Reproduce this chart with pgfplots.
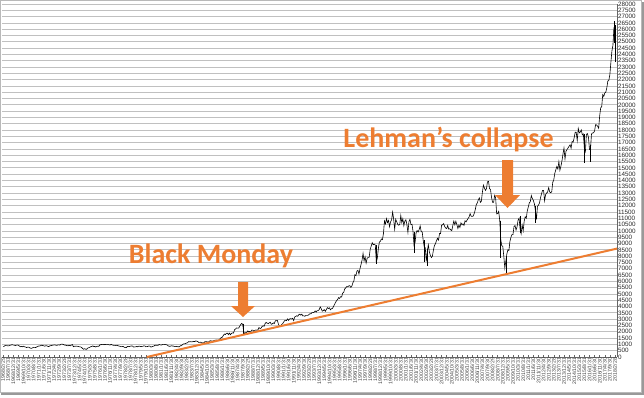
\documentclass[border=0pt]{standalone}
\usepackage{pgfplots}
\pgfplotsset{compat=1.18}
\usepackage{pgfplotstable}
\usepackage{fontspec}
\setmainfont{Liberation Sans}
\newfontfamily\calibri{Carlito}
\definecolor{xlorange}{RGB}{237,125,49}
\definecolor{gridgray}{RGB}{192,192,192}

\pgfplotstableread[row sep=\\,header=false]{
840\\ 840\\ 912\\ 899\\ 898\\ 883\\ 896\\ 935\\ 952\\ 985\\ 944\\
946\\ 905\\ 935\\ 950\\ 937\\ 873\\ 816\\ 837\\ 813\\ 856\\ 812\\ 800\\
744\\ 778\\ 786\\ 736\\ 700\\ 684\\ 734\\ 765\\ 761\\ 756\\ 794\\ 839\\
869\\ 879\\ 904\\ 942\\ 907\\ 891\\ 858\\ 898\\ 887\\ 839\\ 831\\ 890\\
902\\ 928\\ 941\\ 954\\ 961\\ 929\\ 925\\ 964\\ 953\\ 956\\ 1018\\ 1020\\
999\\ 955\\ 951\\ 921\\ 901\\ 892\\ 926\\ 888\\ 947\\ 987\\ 822\\ 851\\
856\\ 860\\ 847\\ 837\\ 802\\ 802\\ 757\\ 679\\ 608\\ 666\\ 619\\ 616\\
704\\ 739\\ 768\\ 821\\ 832\\ 879\\ 832\\ 835\\ 794\\ 836\\ 860\\ 852\\
975\\ 973\\ 999\\ 997\\ 975\\ 1003\\ 985\\ 974\\ 990\\ 965\\ 947\\ 1005\\
954\\ 936\\ 919\\ 926\\ 899\\ 916\\ 890\\ 862\\ 847\\ 818\\ 830\\ 831\\
770\\ 742\\ 757\\ 837\\ 840\\ 819\\ 862\\ 876\\ 866\\ 793\\ 799\\ 805\\
839\\ 808\\ 862\\ 855\\ 822\\ 842\\ 846\\ 888\\ 878\\ 815\\ 822\\ 839\\
876\\ 863\\ 786\\ 817\\ 851\\ 868\\ 935\\ 933\\ 932\\ 925\\ 993\\ 964\\
947\\ 974\\ 1004\\ 998\\ 992\\ 977\\ 952\\ 882\\ 850\\ 853\\ 889\\ 875\\
872\\ 824\\ 823\\ 848\\ 820\\ 812\\ 809\\ 901\\ 896\\ 992\\ 1039\\ 1047\\
1076\\ 1113\\ 1130\\ 1226\\ 1200\\ 1222\\ 1199\\ 1216\\ 1233\\ 1225\\ 1276\\ 1259\\
1221\\ 1155\\ 1165\\ 1171\\ 1105\\ 1132\\ 1116\\ 1224\\ 1207\\ 1207\\ 1189\\ 1212\\
1287\\ 1284\\ 1267\\ 1258\\ 1315\\ 1336\\ 1348\\ 1334\\ 1329\\ 1374\\ 1472\\ 1547\\
1571\\ 1709\\ 1819\\ 1784\\ 1877\\ 1893\\ 1775\\ 1898\\ 1768\\ 1878\\ 1914\\ 1896\\
2158\\ 2224\\ 2305\\ 2286\\ 2292\\ 2419\\ 2572\\ 2663\\ 2596\\ 1994\\ 1834\\ 1939\\
1958\\ 2072\\ 1988\\ 2032\\ 2031\\ 2142\\ 2129\\ 2032\\ 2113\\ 2149\\ 2115\\ 2169\\
2342\\ 2258\\ 2294\\ 2419\\ 2480\\ 2440\\ 2661\\ 2737\\ 2693\\ 2645\\ 2706\\ 2753\\
2591\\ 2627\\ 2707\\ 2657\\ 2877\\ 2881\\ 2905\\ 2614\\ 2453\\ 2442\\ 2560\\ 2634\\
2736\\ 2882\\ 2914\\ 2888\\ 3028\\ 2907\\ 3025\\ 3044\\ 3017\\ 3069\\ 2895\\ 3169\\
3224\\ 3267\\ 3236\\ 3359\\ 3397\\ 3319\\ 3394\\ 3257\\ 3272\\ 3226\\ 3306\\ 3301\\
3310\\ 3370\\ 3435\\ 3428\\ 3527\\ 3516\\ 3540\\ 3651\\ 3555\\ 3681\\ 3684\\ 3754\\
3978\\ 3832\\ 3636\\ 3682\\ 3758\\ 3625\\ 3765\\ 3913\\ 3843\\ 3908\\ 3739\\ 3834\\
3844\\ 4011\\ 4158\\ 4321\\ 4465\\ 4556\\ 4709\\ 4647\\ 4789\\ 4756\\ 5075\\ 5117\\
5395\\ 5486\\ 5588\\ 5569\\ 5643\\ 5655\\ 5529\\ 5616\\ 5882\\ 6029\\ 6522\\ 6448\\
6813\\ 6877\\ 6584\\ 7009\\ 7331\\ 7673\\ 8223\\ 7622\\ 7945\\ 7442\\ 7823\\ 7908\\
7907\\ 8546\\ 8800\\ 9063\\ 8900\\ 8952\\ 8883\\ 7539\\ 7843\\ 8592\\ 9117\\ 9181\\
9359\\ 9307\\ 9786\\ 10789\\ 10560\\ 10971\\ 10655\\ 10829\\ 10337\\ 10730\\ 10878\\ 11497\\
10941\\ 10128\\ 10922\\ 10734\\ 10522\\ 10448\\ 10522\\ 11215\\ 10651\\ 10971\\ 10415\\ 10787\\
10887\\ 10495\\ 9879\\ 10735\\ 10912\\ 10502\\ 10523\\ 9950\\ 8848\\ 9075\\ 9852\\ 10021\\
9920\\ 10106\\ 10404\\ 9946\\ 9925\\ 9243\\ 8737\\ 8664\\ 7592\\ 8397\\ 8896\\ 8342\\
8054\\ 7891\\ 7992\\ 8480\\ 8850\\ 8985\\ 9234\\ 9416\\ 9275\\ 9801\\ 9782\\ 10454\\
10488\\ 10584\\ 10358\\ 10226\\ 10188\\ 10435\\ 10140\\ 10174\\ 10080\\ 10027\\ 10428\\ 10783\\
10490\\ 10766\\ 10504\\ 10193\\ 10467\\ 10275\\ 10641\\ 10482\\ 10569\\ 10440\\ 10806\\ 10718\\
10865\\ 10993\\ 11109\\ 11367\\ 11168\\ 11150\\ 11186\\ 11381\\ 11679\\ 12081\\ 12222\\ 12463\\
12622\\ 12269\\ 12354\\ 13063\\ 13628\\ 13409\\ 13212\\ 13358\\ 13896\\ 13930\\ 13372\\ 13265\\
12650\\ 12266\\ 12263\\ 12820\\ 12638\\ 11350\\ 11378\\ 11544\\ 10851\\ 9325\\ 8829\\ 8776\\
8001\\ 7063\\ 7609\\ 8168\\ 8500\\ 8447\\ 9172\\ 9496\\ 9712\\ 9713\\ 10345\\ 10428\\
10067\\ 10325\\ 10857\\ 11009\\ 10137\\ 9774\\ 10466\\ 10015\\ 10788\\ 11118\\ 11006\\ 11578\\
11892\\ 12226\\ 12320\\ 12811\\ 12570\\ 12414\\ 12143\\ 11614\\ 10913\\ 11955\\ 12046\\ 12218\\
12633\\ 12952\\ 13212\\ 13214\\ 12393\\ 12880\\ 13009\\ 13091\\ 13437\\ 13096\\ 13026\\ 13104\\
13861\\ 14054\\ 14579\\ 14840\\ 15116\\ 14910\\ 15500\\ 14810\\ 15130\\ 15546\\ 16086\\ 16577\\
15699\\ 16322\\ 16458\\ 16581\\ 16717\\ 16827\\ 16563\\ 17098\\ 17043\\ 17391\\ 17828\\ 17823\\
17165\\ 18133\\ 17776\\ 17841\\ 18011\\ 17620\\ 17690\\ 16528\\ 16285\\ 17664\\ 17720\\ 17425\\
16466\\ 16517\\ 17685\\ 17774\\ 17787\\ 17930\\ 18432\\ 18401\\ 18308\\ 18142\\ 19124\\ 19763\\
19864\\ 20812\\ 20663\\ 20941\\ 21009\\ 21350\\ 21891\\ 21948\\ 22405\\ 23377\\ 24272\\ 24719\\
26149\\ 25029\\
}\dow

\begin{document}
\begin{tikzpicture}
\path[use as bounding box] (-2pt,-40pt) rectangle (642pt,357pt);
\draw[gray!55, line width=0.6pt] (-1.6pt,-35.5pt) rectangle (639.5pt,356.6pt);
\draw[gray!80, line width=1.4pt] (-1pt,-36.8pt) -- (640.8pt,-36.8pt) -- (640.8pt,355pt);
\begin{axis}[
  at={(0,0)}, anchor=south west,
  scale only axis, width=615pt, height=353pt,
  xmin=-1, xmax=602, ymin=0, ymax=28000,
  ytick={0,500,...,28000},
  scaled y ticks=false, scaled x ticks=false,
  yticklabel pos=right,
  ymajorgrids,
  grid style={gridgray, line width=0.8pt},
  axis x line*=bottom, axis y line*=right,
  axis line style={gray!80!black, line width=0.6pt, -},
  /pgf/number format/assume math mode=true,
  /pgf/number format/1000 sep={},
  /pgf/number format/fixed,
  yticklabel style={font=\fontsize{6.3}{6.5}\selectfont, inner sep=0.8pt, text=black!85},
  ytick style={draw=none},
  xtick={0,5,...,600},
  xtick style={gray!80!black, line width=0.4pt},
  major tick length=2pt,
  xticklabel={\pgfmathtruncatemacro{\mi}{round(\tick)+1}%
    \pgfmathtruncatemacro{\yy}{1968+floor(\mi/12)}%
    \pgfmathtruncatemacro{\mm}{mod(\mi,12)+1}%
    \pgfmathtruncatemacro{\dd}{ifthenelse(\mm==2,28+(mod(\yy,4)==0),ifthenelse(\mm==4||\mm==6||\mm==9||\mm==11,30,31))}%
    \yy/\mm/\dd},
  xticklabel style={rotate=90, anchor=east, font=\fontsize{5.2}{5.5}\selectfont, inner sep=0.8pt, text=black!75},
  clip=true,
]
\addplot[black, line width=0.6pt] table[x expr=\coordindex, y index=0] {\dow};
% high-low spikes
\addplot[black, line width=0.6pt] coordinates {(236,2650) (236,1738)};
\addplot[black, line width=0.6pt] coordinates {(366,8900) (366,7400)};
\addplot[black, line width=0.6pt] coordinates {(403,9950) (403,8235)};
\addplot[black, line width=0.6pt] coordinates {(413,9300) (413,7532)};
\addplot[black, line width=0.6pt] coordinates {(416,8600) (416,7197)};
\addplot[black, line width=0.6pt] coordinates {(488,10800) (488,7882)};
\addplot[black, line width=0.6pt] coordinates {(493,7900) (493,6547)};
\addplot[black, line width=0.6pt] coordinates {(507,11200) (507,9870)};
\addplot[black, line width=0.6pt] coordinates {(522,12000) (522,10604)};
\addplot[black, line width=0.6pt] coordinates {(570,17700) (570,15370)};
\addplot[black, line width=0.6pt] coordinates {(576,16800) (576,15450)};
\addplot[black, line width=0.6pt] coordinates {(599,26617) (599,24900)};
\addplot[black, line width=0.6pt] coordinates {(600,26300) (600,23360)};
% trend line
\addplot[xlorange, line width=2pt] coordinates {(141,0) (602,8600)};
\end{axis}
% arrows
\fill[xlorange] (236pt,75pt) -- (246pt,75pt) -- (246pt,51pt) -- (253pt,51pt) -- (241pt,40pt) -- (229pt,51pt) -- (236pt,51pt) -- cycle;
\fill[xlorange] (500pt,197pt) -- (511pt,197pt) -- (511pt,162pt) -- (518pt,162pt) -- (505.5pt,149pt) -- (493pt,162pt) -- (500pt,162pt) -- cycle;
\node[anchor=base, text=xlorange, font=\calibri\bfseries\fontsize{28}{30}\selectfont, inner sep=0pt] at (209pt,94pt) {Black Monday};
\node[anchor=base, text=xlorange, font=\calibri\bfseries\fontsize{28}{30}\selectfont, inner sep=0pt] at (446.5pt,210pt) {Lehman’s collapse};
\end{tikzpicture}
\end{document}
